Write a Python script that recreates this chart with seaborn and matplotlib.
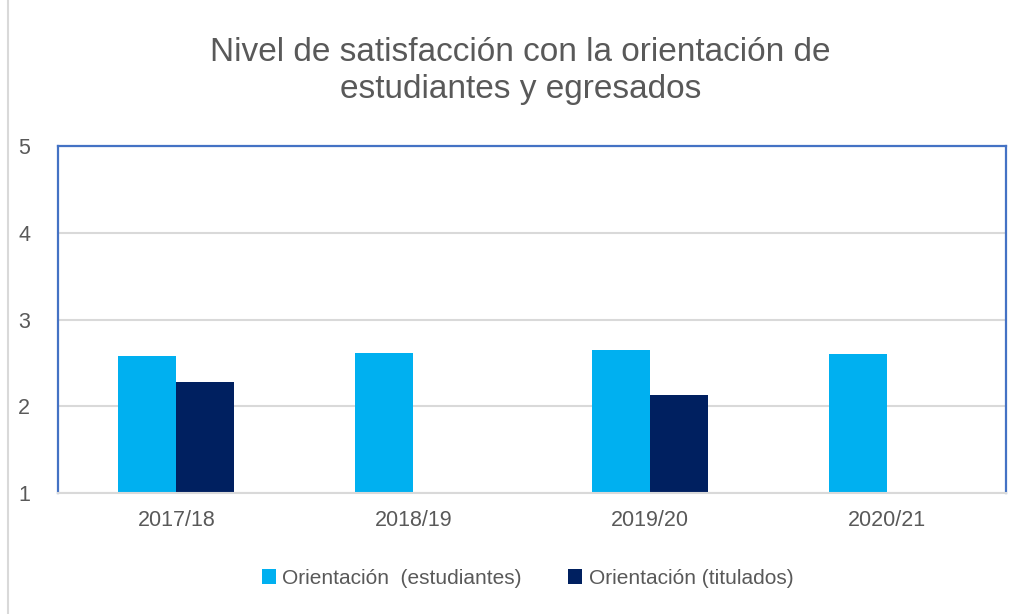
import numpy as np
import pandas as pd
import matplotlib.pyplot as plt
import seaborn as sns
from matplotlib.patches import Patch, Rectangle

# Values
cursos = ['2017/18', '2018/19', '2019/20', '2020/21']
estudiantes = [2.58, 2.61, 2.65, 2.60]
titulados = [2.28, np.nan, 2.13, np.nan]
series = ['Orientación  (estudiantes)', 'Orientación (titulados)']
colores = ['#00B0F0', '#002060']

df = pd.DataFrame({
    'curso': cursos * 2,
    'valor': estudiantes + titulados,
    'serie': [series[0]] * 4 + [series[1]] * 4,
})

sns.set_theme(style='white')
plt.rcParams['font.family'] = ['Liberation Sans', 'DejaVu Sans']

fig = plt.figure(figsize=(10.24, 6.14), dpi=100)
ax = fig.add_axes([0.0566, 0.197, 0.9254, 0.565])

sns.barplot(data=df, x='curso', y='valor', hue='serie', palette=colores,
            width=0.49, saturation=1, linewidth=0, ax=ax, legend=False)

ax.set_ylim(1, 5)
ax.set_yticks([1, 2, 3, 4, 5])
ax.set_xlim(-0.5, 3.5)
ax.grid(axis='y', color='#d9d9d9', linewidth=1.5)
ax.set_axisbelow(True)
ax.set_xlabel('')
ax.set_ylabel('')
ax.tick_params(axis='both', length=0, labelsize=15.5, labelcolor='#595959')
ax.tick_params(axis='y', pad=20)
ax.tick_params(axis='x', pad=12)

for s in ['top', 'left', 'right']:
    ax.spines[s].set_color('#4472C4')
    ax.spines[s].set_linewidth(1.6)
ax.spines['bottom'].set_color('#d9d9d9')
ax.spines['bottom'].set_linewidth(1.5)
ax.spines['bottom'].set_zorder(5)

fig.text(0.508, 0.885, 'Nivel de satisfacción con la orientación de\nestudiantes y egresados',
         ha='center', va='center', fontsize=24, color='#595959', linespacing=1.25)

handles = [Patch(facecolor=c, edgecolor='none') for c in colores]
fig.legend(handles, series, loc='center', bbox_to_anchor=(0.515, 0.058), ncol=2,
           frameon=False, fontsize=15, handlelength=0.7, handleheight=0.7,
           handletextpad=0.3, columnspacing=2.2, labelcolor='#595959')

# outer chart border
fig.patches.append(Rectangle((0.008, -0.01), 1.2, 1.2, transform=fig.transFigure,
                             fill=False, edgecolor='#d9d9d9', linewidth=1.5))

fig.savefig('out.png', dpi=100)
